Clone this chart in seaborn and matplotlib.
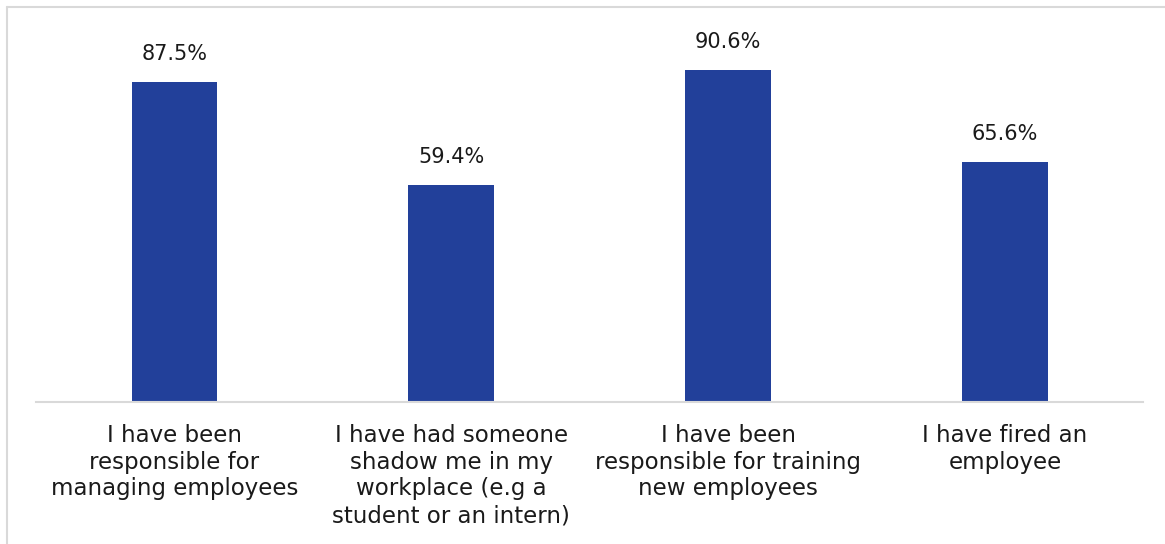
import matplotlib
matplotlib.use("Agg")
import matplotlib.pyplot as plt
from matplotlib.lines import Line2D
import seaborn as sns
import pandas as pd

categories = [
    "I have been\nresponsible for\nmanaging employees",
    "I have had someone\nshadow me in my\nworkplace (e.g a\nstudent or an intern)",
    "I have been\nresponsible for training\nnew employees",
    "I have fired an\nemployee",
]
values = [87.5, 59.4, 90.6, 65.6]

bar_color = "#22409A"
text_color = "#1A1A1A"

sns.set_theme(style="white")
plt.rcParams["font.family"] = ["DejaVu Sans"]

df = pd.DataFrame({"category": categories, "value": values})

fig = plt.figure(figsize=(11.65, 5.44), dpi=100)
ax = fig.add_axes([36 / 1165, 1 - 402 / 544, (1143.4 - 36) / 1165, (402 - 36) / 544])

sns.barplot(data=df, x="category", y="value", color=bar_color, width=0.31,
            saturation=1, linewidth=0, ax=ax)

ax.set_ylim(0, 100)
ax.set_xlim(-0.5, len(categories) - 0.5)
ax.set_xlabel("")
ax.set_ylabel("")
ax.set_yticks([])

for c in ax.containers:
    ax.bar_label(c, labels=[f"{v:.1f}%" for v in values], padding=13,
                 fontsize=15, color=text_color)

ax.set_xticks(range(len(categories)))
ax.set_xticklabels(categories, fontsize=16.5, color=text_color, linespacing=1.2)
ax.tick_params(axis="x", length=0, pad=16)

for side in ["top", "right", "left"]:
    ax.spines[side].set_visible(False)
ax.spines["bottom"].set_color("#D9D9D9")
ax.spines["bottom"].set_linewidth(1.5)

# light frame around the chart area
fx = 7 / 1165
fy = 1 - 7 / 544
fig.add_artist(Line2D([fx, 1.0], [fy, fy], transform=fig.transFigure,
                      color="#D9D9D9", lw=1.5))
fig.add_artist(Line2D([fx, fx], [0.0, fy], transform=fig.transFigure,
                      color="#D9D9D9", lw=1.5))

fig.savefig("out.png", dpi=100)
